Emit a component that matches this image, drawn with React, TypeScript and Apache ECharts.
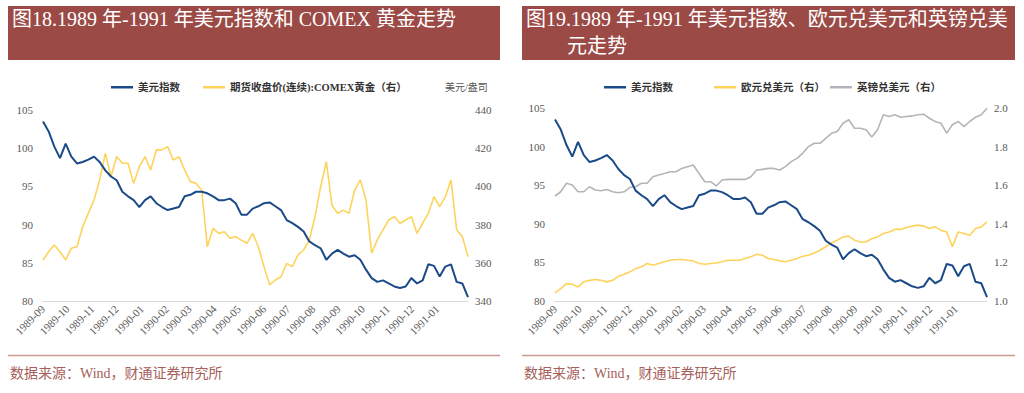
import React, { useEffect, useRef } from "react";
import * as echarts from "echarts";

// ---- Data ----
const startYear = 1989;
const startMonth = 9; // weekly observations from 1989-09-01, one every 7 days
const monthLabels = [
  "1989-09", "1989-10", "1989-11", "1989-12", "1990-01", "1990-02", "1990-03", "1990-04",
  "1990-05", "1990-06", "1990-07", "1990-08", "1990-09", "1990-10", "1990-11", "1990-12", "1991-01",
];

const dollarIndex = [
  103.5, 102.2, 100.2, 98.7, 100.6, 98.9, 98.0, 98.2, 98.5, 98.9,
  98.2, 97.1, 96.3, 95.8, 94.3, 93.7, 93.2, 92.3, 93.2, 93.7,
  92.8, 92.3, 91.9, 92.1, 92.3, 93.7, 93.9, 94.3, 94.3, 94.1,
  93.7, 93.2, 93.2, 93.4, 92.8, 91.3, 91.3, 92.1, 92.4, 92.8,
  92.9, 92.4, 91.9, 90.6, 90.2, 89.7, 89.1, 87.8, 87.3, 86.9,
  85.4, 86.2, 86.7, 86.2, 85.8, 86.0, 85.4, 84.1, 83.0, 82.5,
  82.7, 82.3, 81.9, 81.7, 81.9, 83.0, 82.3, 82.7, 84.8, 84.6,
  83.2, 84.5, 84.8, 82.5, 82.3, 80.5,
];

const comexGold = [
  361.5, 365.8, 369.3, 365.8, 361.5, 367.6, 368.4, 378.9, 385.9, 392.9,
  403.4, 417.3, 405.1, 415.6, 412.1, 412.1, 401.6, 410.3, 415.6, 408.6,
  419.1, 419.1, 420.8, 413.8, 415.6, 408.6, 402.5, 401.6, 398.1, 368.4,
  378.0, 375.4, 376.3, 372.8, 373.7, 371.9, 370.2, 375.4, 368.4, 358.0,
  348.4, 351.0, 352.7, 359.7, 358.0, 364.1, 366.7, 371.9, 384.2, 399.9,
  413.0, 390.0, 385.9, 387.6, 385.9, 398.1, 403.4, 392.9, 365.0, 372.0,
  377.2, 382.4, 384.2, 380.7, 382.4, 384.2, 375.4, 380.7, 385.9, 394.6,
  389.4, 394.6, 403.4, 377.2, 373.7, 363.2,
];

const eurUsd = [
  1.042, 1.064, 1.090, 1.087, 1.073, 1.099, 1.107, 1.111, 1.107, 1.099,
  1.107, 1.128, 1.139, 1.151, 1.168, 1.177, 1.194, 1.185, 1.194, 1.203,
  1.211, 1.215, 1.215, 1.211, 1.208, 1.194, 1.190, 1.194, 1.197, 1.203,
  1.211, 1.211, 1.211, 1.220, 1.229, 1.242, 1.237, 1.220, 1.215, 1.208,
  1.203, 1.211, 1.220, 1.232, 1.237, 1.249, 1.263, 1.281, 1.301, 1.315,
  1.332, 1.336, 1.315, 1.306, 1.306, 1.324, 1.332, 1.350, 1.358, 1.371,
  1.371, 1.381, 1.388, 1.393, 1.388, 1.376, 1.384, 1.367, 1.358, 1.281,
  1.358, 1.350, 1.341, 1.376, 1.384, 1.410,
];

const gbpUsd = [
  1.544, 1.566, 1.610, 1.601, 1.566, 1.566, 1.592, 1.575, 1.571, 1.578,
  1.566, 1.561, 1.566, 1.589, 1.592, 1.610, 1.610, 1.644, 1.653, 1.661,
  1.670, 1.670, 1.687, 1.696, 1.705, 1.661, 1.618, 1.618, 1.596, 1.627,
  1.630, 1.630, 1.630, 1.630, 1.644, 1.679, 1.682, 1.687, 1.687, 1.679,
  1.696, 1.722, 1.739, 1.765, 1.800, 1.817, 1.817, 1.843, 1.869, 1.878,
  1.921, 1.939, 1.895, 1.895, 1.887, 1.850, 1.887, 1.965, 1.956, 1.965,
  1.952, 1.956, 1.959, 1.965, 1.968, 1.947, 1.930, 1.921, 1.870, 1.913,
  1.930, 1.904, 1.930, 1.952, 1.965, 1.999,
];

const leftAxis = { min: 80, max: 105, interval: 5 };
const goldAxis = { min: 340, max: 440, interval: 20 };
const fxAxis = { min: 1.0, max: 2.0, interval: 0.2 };

const TITLE_LEFT = "图18.1989 年-1991 年美元指数和 COMEX 黄金走势";
const TITLE_RIGHT_1 = "图19.1989 年-1991 年美元指数、欧元兑美元和英镑兑美";
const TITLE_RIGHT_2 = "元走势";
const SOURCE = "数据来源：Wind，财通证券研究所";
const GOLD_UNIT = "美元/盎司";

const NAME_DXY = "美元指数";
const NAME_GOLD = "期货收盘价(连续):COMEX黄金（右）";
const NAME_EUR = "欧元兑美元（右）";
const NAME_GBP = "英镑兑美元（右）";

// ---- Styles ----
const FONT = "'Liberation Serif', 'Noto Sans CJK SC', serif";
const BLUE = "#1b4a89";
const YELLOW = "#fdd35c";
const GRAY = "#b3b5ba";
const BANNER = "#9b4a46";
const RULE = "#cf9993";
const LABEL = "#595959";

const pad = (n: number) => (n < 10 ? "0" + n : "" + n);

// daily calendar categories covering the weekly observations
function buildDays(nWeeks: number): string[] {
  const out: string[] = [];
  const nDays = (nWeeks - 1) * 7 + 1;
  for (let i = 0; i < nDays; i++) {
    const d = new Date(startYear, startMonth - 1, 1 + i, 12);
    out.push(d.getFullYear() + "-" + pad(d.getMonth() + 1) + "-" + pad(d.getDate()));
  }
  return out;
}

// place weekly values on the daily category axis
function placeWeekly(values: number[], nDays: number): (number | null)[] {
  const out: (number | null)[] = new Array(nDays).fill(null);
  values.forEach((v, i) => {
    out[i * 7] = v;
  });
  return out;
}

export default function App() {
  const ref = useRef<HTMLDivElement>(null);
  useEffect(() => {
    if (!ref.current) return;
    const chart = echarts.init(ref.current, null, { renderer: "svg" });
    const days = buildDays(dollarIndex.length);
    const labelSet = new Set(monthLabels.map((m) => m + "-01"));

    const xAxisBase = (gridIndex: number) => ({
      type: "category" as const,
      gridIndex,
      data: days,
      boundaryGap: false,
      axisLine: { show: true, lineStyle: { color: "#d9d9d9", width: 1 } },
      axisTick: { show: false },
      splitLine: { show: false },
      axisLabel: {
        interval: (_i: number, v: string) => labelSet.has(v),
        rotate: 45,
        hideOverlap: false,
        margin: 6,
        color: LABEL,
        fontSize: 11,
        fontFamily: FONT,
        formatter: (v: string) => v.slice(0, 7),
      },
    });

    const yAxisBase = (
      gridIndex: number,
      cfg: { min: number; max: number; interval: number },
      pos: "left" | "right",
      dec: number
    ) => ({
      type: "value" as const,
      gridIndex,
      position: pos,
      min: cfg.min,
      max: cfg.max,
      interval: cfg.interval,
      axisLine: { show: false },
      axisTick: { show: false },
      splitLine: { show: false },
      axisLabel: {
        color: LABEL,
        fontSize: 11,
        fontFamily: FONT,
        margin: pos === "left" ? 10 : 7,
        formatter: (v: number) => v.toFixed(dec),
      },
    });

    const legendText = { fontSize: 10.5, fontWeight: "bold" as const, color: "#333", fontFamily: FONT };
    const legendItem = (left: number, names: string[], gap = 22) => ({
      left,
      top: 77,
      icon: "rect",
      itemWidth: 22,
      itemHeight: 2.5,
      itemGap: gap,
      textStyle: legendText,
      data: names,
    });
    const lineSeries = (name: string, xi: number, yi: number, vals: number[], color: string, width: number) => ({
      name,
      type: "line" as const,
      xAxisIndex: xi,
      yAxisIndex: yi,
      data: placeWeekly(vals, days.length),
      connectNulls: true,
      showSymbol: false,
      symbol: "none",
      lineStyle: { color, width },
      itemStyle: { color },
    });

    chart.setOption({
      animation: false,
      backgroundColor: "#ffffff",
      grid: [
        { left: 43, right: 1024 - 468, top: 110, bottom: 393 - 301 },
        { left: 555, right: 1024 - 987, top: 108, bottom: 393 - 301 },
      ],
      legend: [
        legendItem(106, [NAME_DXY, NAME_GOLD], 23),
        legendItem(599, [NAME_DXY]),
        legendItem(709, [NAME_EUR]),
        legendItem(825, [NAME_GBP]),
      ],
      xAxis: [xAxisBase(0), xAxisBase(1)],
      yAxis: [
        yAxisBase(0, leftAxis, "left", 0),
        yAxisBase(0, goldAxis, "right", 0),
        yAxisBase(1, leftAxis, "left", 0),
        yAxisBase(1, fxAxis, "right", 1),
      ],
      series: [
        lineSeries(NAME_GOLD, 0, 1, comexGold, YELLOW, 1.6),
        lineSeries(NAME_DXY, 0, 0, dollarIndex, BLUE, 2),
        lineSeries(NAME_GBP, 1, 3, gbpUsd, GRAY, 1.6),
        lineSeries(NAME_EUR, 1, 3, eurUsd, YELLOW, 1.6),
        lineSeries(NAME_DXY, 1, 2, dollarIndex, BLUE, 2),
      ],
      graphic: [
        { type: "rect", shape: { x: 8, y: 6, width: 492, height: 54 }, style: { fill: BANNER } },
        { type: "rect", shape: { x: 522, y: 6, width: 493, height: 54 }, style: { fill: BANNER } },
        { type: "text", x: 12, y: 9, style: { text: TITLE_LEFT, fill: "#ffffff", fontSize: 20, fontFamily: FONT } },
        { type: "text", x: 526, y: 9, style: { text: TITLE_RIGHT_1, fill: "#ffffff", fontSize: 20, fontFamily: FONT } },
        { type: "text", x: 567, y: 36, style: { text: TITLE_RIGHT_2, fill: "#ffffff", fontSize: 20, fontFamily: FONT } },
        { type: "text", x: 445, y: 82, style: { text: GOLD_UNIT, fill: "#555", fontSize: 10, fontFamily: FONT } },
        { type: "line", shape: { x1: 8, y1: 355.5, x2: 500, y2: 355.5 }, style: { stroke: RULE, lineWidth: 1.5 } },
        { type: "line", shape: { x1: 522, y1: 355.5, x2: 1015, y2: 355.5 }, style: { stroke: RULE, lineWidth: 1.5 } },
        { type: "text", x: 10, y: 366, style: { text: SOURCE, fill: "#a5605a", fontSize: 14, fontFamily: FONT } },
        { type: "text", x: 524, y: 366, style: { text: SOURCE, fill: "#a5605a", fontSize: 14, fontFamily: FONT } },
      ],
    });
    return () => chart.dispose();
  }, []);

  return (
    <div
      ref={ref}
      style={{ position: "absolute", left: 0, top: 0, width: 1024, height: 393, background: "#fff" }}
    />
  );
}
